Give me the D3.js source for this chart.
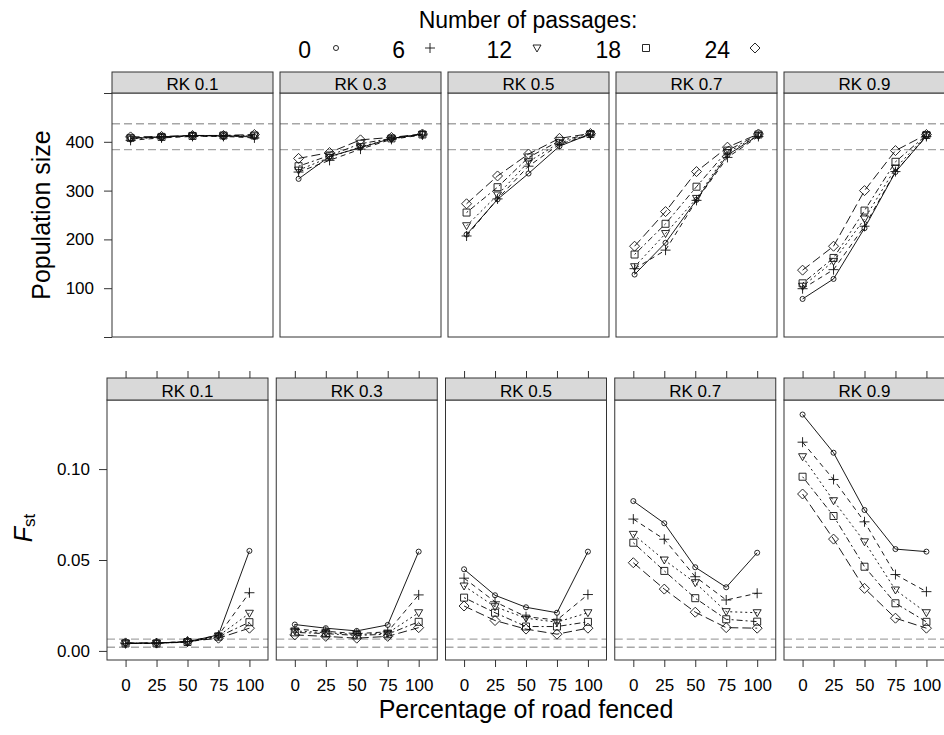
<!DOCTYPE html>
<html>
<head>
<meta charset="utf-8">
<script src="https://cdn.jsdelivr.net/npm/d3@7"></script>
<style>
  body { margin: 0; background: #fff; }
  svg { display: block; }
</style>
</head>
<body>
<svg id="chart" width="944" height="735"></svg>
<script>
// ---- data ----
const rkLevels = ["RK 0.1", "RK 0.3", "RK 0.5", "RK 0.7", "RK 0.9"];
const fenced = [0, 25, 50, 75, 100];
const passages = [0, 6, 12, 18, 24];

// population size, one row per number of passages (0, 6, 12, 18, 24)
const popRK01 = [[407, 410, 413, 412, 410], [403, 408, 411, 411, 408], [406, 409, 412, 412, 412], [408, 410, 412, 413, 413], [410, 411, 413, 413, 415]];
const popRK03 = [[324, 370, 388, 407, 416], [338, 362, 385, 405, 414], [342, 368, 390, 406, 415], [350, 372, 396, 407, 415], [366, 378, 404, 409, 416]];
const popRK05 = [[210, 282, 335, 391, 416], [207, 283, 350, 395, 414], [228, 291, 359, 398, 415], [255, 307, 368, 402, 416], [273, 330, 375, 407, 417]];
const popRK07 = [[128, 193, 281, 373, 413], [140, 178, 280, 368, 411], [144, 212, 284, 378, 413], [169, 232, 308, 382, 415], [186, 257, 339, 389, 416]];
const popRK09 = [[78, 119, 223, 338, 412], [99, 138, 227, 339, 411], [104, 155, 242, 346, 413], [110, 162, 259, 359, 414], [137, 186, 300, 382, 415]];

// Fst
const fstRK01 = [[0.0042, 0.0044, 0.0050, 0.0088, 0.0550], [0.0040, 0.0043, 0.0052, 0.0086, 0.0320], [0.0043, 0.0042, 0.0048, 0.0082, 0.0207], [0.0041, 0.0041, 0.0049, 0.0078, 0.0158], [0.0044, 0.0043, 0.0051, 0.0070, 0.0125]];
const fstRK03 = [[0.0145, 0.0125, 0.0110, 0.0143, 0.0546], [0.0120, 0.0108, 0.0095, 0.0105, 0.0308], [0.0110, 0.0100, 0.0090, 0.0098, 0.0210], [0.0102, 0.0095, 0.0085, 0.0092, 0.0160], [0.0088, 0.0080, 0.0070, 0.0080, 0.0128]];
const fstRK05 = [[0.0449, 0.0306, 0.0240, 0.0210, 0.0546], [0.0400, 0.0270, 0.0188, 0.0170, 0.0310], [0.0357, 0.0243, 0.0180, 0.0158, 0.0210], [0.0293, 0.0210, 0.0134, 0.0134, 0.0160], [0.0247, 0.0167, 0.0120, 0.0092, 0.0125]];
const fstRK07 = [[0.0824, 0.0702, 0.0460, 0.0350, 0.0540], [0.0725, 0.0614, 0.0408, 0.0280, 0.0317], [0.0641, 0.0500, 0.0375, 0.0216, 0.0210], [0.0595, 0.0440, 0.0290, 0.0174, 0.0161], [0.0485, 0.0340, 0.0213, 0.0128, 0.0125]];
const fstRK09 = [[0.1300, 0.1090, 0.0775, 0.0560, 0.0546], [0.1148, 0.0943, 0.0710, 0.0420, 0.0326], [0.1068, 0.0826, 0.0600, 0.0335, 0.0210], [0.0958, 0.0742, 0.0463, 0.0262, 0.0160], [0.0863, 0.0615, 0.0344, 0.0180, 0.0125]];

const popRef = [384, 437];
const fstRef = [0.002, 0.0065];
const popTicks = [0, 100, 200, 300, 400, 500];
const fstTicks = [0, 0.05, 0.10];

// ---- drawing ----
const font = "'Liberation Sans', Arial, Helvetica, sans-serif";
const dashes = [null, "5,4", "2,3", "2,3,6,3", "9,4"];
const frameCol = "#333";

const svg = d3.select("#chart");
svg.append("rect").attr("width", 944).attr("height", 735).attr("fill", "#fff");

function symbolPath(i) {
  if (i === 0) return d3.symbol(d3.symbolCircle, 20)();
  if (i === 1) return "M-5,0H5M0,-5V5";
  if (i === 2) return "M-4,-3L4,-3L0,4Z";
  if (i === 3) return "M-3.5,-3.5H3.5V3.5H-3.5Z";
  return "M0,-5L5,0L0,5L-5,0Z";
}

function drawRow(cfg, panels, y, refs, yTicks, yFmt) {
  panels.forEach((series, p) => {
    const left = cfg.x0 + p * cfg.step;
    const x = d3.scalePoint(fenced, [left, left + cfg.w]).padding(0.6);
    const g = svg.append("g");

    g.append("rect").attr("x", left).attr("y", cfg.top).attr("width", cfg.w)
      .attr("height", cfg.bottom - cfg.top).attr("fill", "#fff");

    refs.forEach(r => {
      g.append("line").attr("x1", left).attr("x2", left + cfg.w)
        .attr("y1", y(r)).attr("y2", y(r))
        .attr("stroke", "#a6a6a6").attr("stroke-width", 1.3).attr("stroke-dasharray", "8,4");
    });

    const line = d3.line().x((d, j) => x(fenced[j])).y(d => y(d));
    series.forEach((vals, i) => {
      g.append("path").attr("d", line(vals)).attr("fill", "none")
        .attr("stroke", "#000").attr("stroke-width", 0.9)
        .attr("stroke-dasharray", dashes[i]);
    });
    series.forEach((vals, i) => {
      g.selectAll(null).data(vals).join("path")
        .attr("d", symbolPath(i))
        .attr("transform", (d, j) => `translate(${x(fenced[j])},${y(d)})`)
        .attr("fill", "none").attr("stroke", "#111").attr("stroke-width", 0.9);
    });

    g.append("rect").attr("x", left).attr("y", cfg.top).attr("width", cfg.w)
      .attr("height", cfg.bottom - cfg.top).attr("fill", "none").attr("stroke", frameCol);

    // strip
    g.append("rect").attr("x", left).attr("y", cfg.stripTop).attr("width", cfg.w)
      .attr("height", cfg.top - cfg.stripTop).attr("fill", "#d9d9d9").attr("stroke", frameCol);
    g.append("text").attr("x", left + cfg.w / 2).attr("y", cfg.top - 3)
      .attr("text-anchor", "middle").attr("font-family", font).attr("font-size", 17)
      .text(rkLevels[p]);

    if (cfg.xAxis) {
      const ab = g.append("g").attr("transform", `translate(0,${cfg.bottom})`)
        .call(d3.axisBottom(x).tickSize(7).tickPadding(12));
      const at = g.append("g").attr("transform", `translate(0,${cfg.stripTop})`)
        .call(d3.axisTop(x).tickSize(7).tickFormat(""));
      [ab, at].forEach(a => {
        a.select(".domain").remove();
        a.selectAll("line").attr("stroke", frameCol);
        a.selectAll("text").attr("font-family", font).attr("font-size", 17).attr("fill", "#000");
      });
    }

    if (p === 0) {
      const ay = g.append("g").attr("transform", `translate(${left},0)`)
        .call(d3.axisLeft(y).tickValues(yTicks).tickFormat(yFmt).tickSize(8).tickPadding(cfg.yPad));
      ay.select(".domain").remove();
      ay.selectAll("line").attr("stroke", frameCol);
      ay.selectAll("text").attr("font-family", font).attr("font-size", 17).attr("fill", "#000");
    }
  });
}

const topCfg = { x0: 112, step: 168, w: 161, stripTop: 72, top: 93, bottom: 337, xAxis: false, yPad: 10 };
const botCfg = { x0: 107, step: 169.25, w: 161, stripTop: 378, top: 400, bottom: 660, xAxis: true, yPad: 9 };

const yPop = d3.scaleLinear([0, 500], [topCfg.bottom, topCfg.top]);
const yFst = d3.scaleLinear([-0.005, 0.138], [botCfg.bottom, botCfg.top]);

drawRow(topCfg, [popRK01, popRK03, popRK05, popRK07, popRK09], yPop, popRef, popTicks,
  d => (d > 0 && d < 500 ? d : ""));
drawRow(botCfg, [fstRK01, fstRK03, fstRK05, fstRK07, fstRK09], yFst, fstRef, fstTicks,
  d3.format(".2f"));

// axis titles
svg.append("text").attr("transform", "translate(50,215) rotate(-90)")
  .attr("text-anchor", "middle").attr("font-family", font).attr("font-size", 25)
  .text("Population size");

const fst = svg.append("text").attr("transform", "translate(32,528) rotate(-90)")
  .attr("text-anchor", "middle").attr("font-family", font).attr("font-size", 25);
fst.append("tspan").attr("font-style", "italic").text("F");
fst.append("tspan").attr("font-size", 17).attr("dy", 3).text("st");

svg.append("text").attr("x", 526).attr("y", 718).attr("text-anchor", "middle")
  .attr("font-family", font).attr("font-size", 25).text("Percentage of road fenced");

// legend
svg.append("text").attr("x", 528).attr("y", 28).attr("text-anchor", "middle")
  .attr("font-family", font).attr("font-size", 23).text("Number of passages:");
const legendX = [336, 430, 537, 646, 755];
passages.forEach((n, i) => {
  svg.append("text").attr("x", legendX[i] - 25).attr("y", 58).attr("text-anchor", "end")
    .attr("font-family", font).attr("font-size", 23).text(n);
  svg.append("path").attr("d", symbolPath(i))
    .attr("transform", `translate(${legendX[i]},48)`)
    .attr("fill", "none").attr("stroke", "#111").attr("stroke-width", 0.9);
});
</script>
</body>
</html>
